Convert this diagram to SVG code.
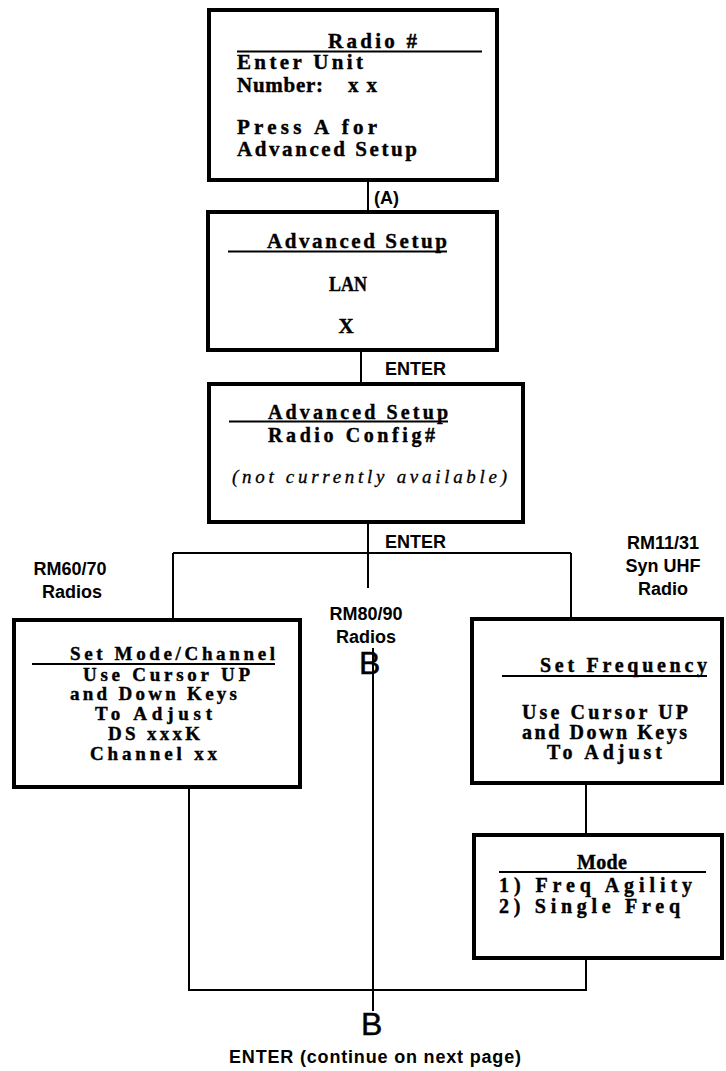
<svg xmlns="http://www.w3.org/2000/svg" width="726" height="1071" viewBox="0 0 726 1071">
<style>
.box{fill:#fff;stroke:#000;stroke-width:4}
.ln{fill:none;stroke:#000;stroke-width:2}
.ul{stroke:#000;stroke-width:2}
.t{font-family:"Liberation Serif",serif;font-weight:bold;font-size:21px;fill:#000;stroke:#000;stroke-width:0.4}
.t2{font-family:"Liberation Serif",serif;font-weight:bold;font-size:20px;fill:#000;stroke:#000;stroke-width:0.4}
.s{font-family:"Liberation Serif",serif;font-weight:bold;font-size:20px;fill:#000;stroke:#000;stroke-width:0.4}
.s2{font-family:"Liberation Serif",serif;font-weight:bold;font-size:19px;fill:#000;stroke:#000;stroke-width:0.4}
.i{font-family:"Liberation Serif",serif;font-style:italic;font-size:19px;fill:#000;stroke:#000;stroke-width:0.3}
.l{font-family:"Liberation Sans",Arial,sans-serif;font-weight:bold;font-size:18px;fill:#000}
.b{font-family:"Liberation Sans",Arial,sans-serif;font-size:32px;fill:#000;stroke:#000;stroke-width:0.5}
</style>
<rect width="726" height="1071" fill="#fff"/>
<g id="connectors">
<path class="ln" d="M368,181 V212"/>
<path class="ln" d="M361,350 V383"/>
<path class="ln" d="M368,523 V588"/>
<path class="ln" d="M173,553 H571"/>
<path class="ln" d="M173,553 V619"/>
<path class="ln" d="M571,553 V618"/>
<path class="ln" d="M373,648 V1011"/>
<path class="ln" d="M189,788 V990 H586 V958"/>
<path class="ln" d="M586,784 V834"/>
</g>
<g id="node-radio">
<rect class="box" x="209" y="10" width="288" height="170"/>
<text class="t" x="328" y="48" textLength="89" lengthAdjust="spacing">Radio #</text>
<line class="ul" x1="237" y1="51.5" x2="482" y2="51.5"/>
<text class="t" x="237" y="69" textLength="126" lengthAdjust="spacing">Enter Unit</text>
<text class="t" x="237" y="92" textLength="86" lengthAdjust="spacing">Number:</text>
<text class="t" x="348" y="92" textLength="29" lengthAdjust="spacing">xx</text>
<text class="t" x="237" y="134" textLength="140" lengthAdjust="spacing">Press A for</text>
<text class="t" x="237" y="156" textLength="180" lengthAdjust="spacing">Advanced Setup</text>
</g>
<g id="node-advanced-lan">
<rect class="box" x="208" y="212" width="289" height="138"/>
<text class="t" x="267" y="248" textLength="180" lengthAdjust="spacing">Advanced Setup</text>
<line class="ul" x1="228" y1="251.5" x2="447" y2="251.5"/>
<text class="t" x="329" y="291" textLength="38" lengthAdjust="spacingAndGlyphs">LAN</text>
<text class="t" x="346" y="333" text-anchor="middle">X</text>
</g>
<g id="node-advanced-config">
<rect class="box" x="209" y="384" width="314" height="138"/>
<text class="t2" x="268" y="419" textLength="180" lengthAdjust="spacing">Advanced Setup</text>
<line class="ul" x1="229" y1="421.5" x2="448" y2="421.5"/>
<text class="t2" x="268" y="442" textLength="167" lengthAdjust="spacing">Radio Config#</text>
<text class="i" x="232" y="483" textLength="275" lengthAdjust="spacing">(not currently available)</text>
</g>
<g id="node-mode-channel">
<rect class="box" x="14" y="620" width="286" height="167"/>
<text class="s2" x="70" y="660" textLength="205" lengthAdjust="spacing">Set Mode/Channel</text>
<line class="ul" x1="32" y1="664" x2="275" y2="664"/>
<text class="s2" x="83" y="681" textLength="167" lengthAdjust="spacing">Use Cursor UP</text>
<text class="s2" x="70" y="700" textLength="167" lengthAdjust="spacing">and Down Keys</text>
<text class="s2" x="95" y="720" textLength="117" lengthAdjust="spacing">To Adjust</text>
<text class="s2" x="108" y="740" textLength="92" lengthAdjust="spacing">DS xxxK</text>
<text class="s2" x="90" y="760" textLength="127" lengthAdjust="spacing">Channel xx</text>
</g>
<g id="node-frequency">
<rect class="box" x="472" y="619" width="250" height="164"/>
<text class="s" x="540" y="672" textLength="167" lengthAdjust="spacing">Set Frequency</text>
<line class="ul" x1="502" y1="676" x2="707" y2="676"/>
<text class="s" x="522" y="719" textLength="166" lengthAdjust="spacing">Use Cursor UP</text>
<text class="s" x="522" y="739" textLength="165" lengthAdjust="spacing">and Down Keys</text>
<text class="s" x="547" y="759" textLength="115" lengthAdjust="spacing">To Adjust</text>
</g>
<g id="node-mode">
<rect class="box" x="474" y="835" width="248" height="123"/>
<text class="s" x="577" y="869" textLength="50" lengthAdjust="spacing">Mode</text>
<line class="ul" x1="499" y1="872" x2="706" y2="872"/>
<text class="s" x="499" y="892" textLength="193" lengthAdjust="spacing">1) Freq Agility</text>
<text class="s" x="499" y="913" textLength="181" lengthAdjust="spacing">2) Single Freq</text>
</g>
<g id="labels">
<text class="l" x="374" y="204">(A)</text>
<text class="l" x="385" y="375">ENTER</text>
<text class="l" x="385" y="548">ENTER</text>
<text class="l" x="70" y="575" text-anchor="middle">RM60/70</text>
<text class="l" x="72" y="598" text-anchor="middle">Radios</text>
<text class="l" x="366" y="620" text-anchor="middle">RM80/90</text>
<text class="l" x="366" y="643" text-anchor="middle">Radios</text>
<text class="l" x="663" y="549" text-anchor="middle">RM11/31</text>
<text class="l" x="663" y="572" text-anchor="middle">Syn UHF</text>
<text class="l" x="663" y="595" text-anchor="middle">Radio</text>
<text class="b" x="359" y="674">B</text>
<text class="b" x="361" y="1035">B</text>
<text class="l" x="375" y="1063" text-anchor="middle" textLength="292" lengthAdjust="spacing">ENTER (continue on next page)</text>
</g>
</svg>
